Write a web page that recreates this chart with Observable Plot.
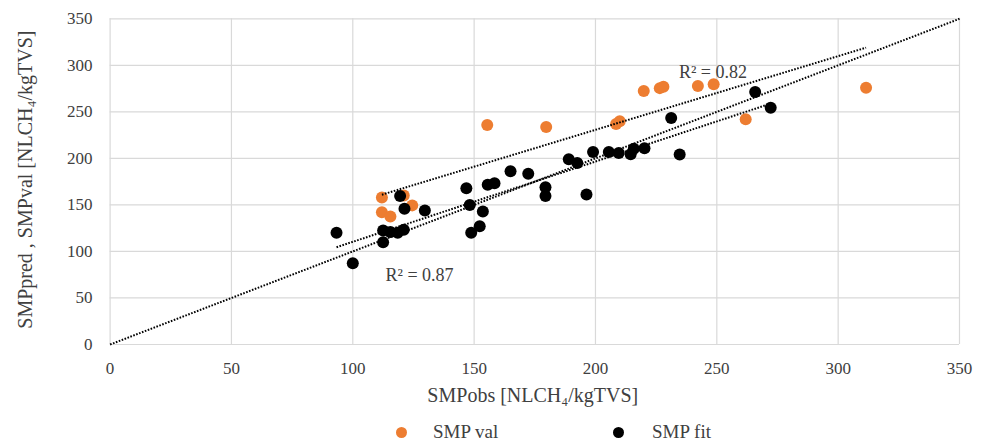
<!DOCTYPE html>
<html>
<head>
<meta charset="utf-8">
<script src="https://cdn.jsdelivr.net/npm/d3@7"></script>
<script src="https://cdn.jsdelivr.net/npm/@observablehq/plot@0.6"></script>
<style>
  html, body { margin: 0; padding: 0; background: #fff; }
  #wrap { width: 981px; position: relative; font-family: "Liberation Serif", "Times New Roman", serif; }
  #legend { position: relative; width: 981px; height: 33px; }
  .sw { position: absolute; width: 11px; height: 11px; border-radius: 50%; top: 17px; }
  .lt { position: absolute; top: 11px; font-size: 19px; color: #404040; line-height: 22px; }
</style>
</head>
<body>
<div id="wrap"></div>
<script>
// SMP val (orange) series
const valX = [112, 121, 112, 115.5, 124.5, 155.4, 179.7, 208.5, 210, 219.9, 226.5, 228, 242.2, 248.7, 261.9, 311.5];
const valY = [158, 160, 142, 137.5, 149.5, 236, 233.7, 237, 240, 272.4, 275.5, 277, 277.8, 279.6, 242, 276];
// SMP fit (black) series
const fitX = [93.3, 100, 112.5, 112.5, 115.5, 118.5, 121, 119.5, 121.3, 129.7, 146.8, 148.2, 148.8, 152.3, 153.6, 155.6, 158.4, 165, 172.3, 179.4, 179.4, 189, 192.5, 196.3, 199, 205.5, 209.6, 214.5, 215.8, 220.2, 231.2, 234.7, 265.8, 272.2];
const fitY = [120, 87.4, 122.5, 110, 121, 120, 123.3, 159.5, 146, 144, 168, 150, 120, 127, 143, 171.7, 173.4, 186.3, 183.5, 169, 159.5, 199, 195, 161.3, 206.8, 206.8, 205.7, 204.5, 210.4, 211, 243.3, 204.3, 271.3, 254.5];
// axis ticks
const ticks = [0, 50, 100, 150, 200, 250, 300, 350];
// 1:1 reference line extent
const identity = [0, 350];
// R² annotations
const r2Labels = ["R² = 0.82", "R² = 0.87"];
const r2X = [248.4, 127.5];
const r2Y = [292.8, 74.2];
const xTitle = "SMPobs [NLCH₄/kgTVS]";
const yTitle = "SMPpred , SMPval [NLCH₄/kgTVS]";
const seriesNames = ["SMP val", "SMP fit"];
const seriesColors = ["#ED7D31", "#000000"];

const val = valX.map((x, i) => ({x, y: valY[i]}));
const fit = fitX.map((x, i) => ({x, y: fitY[i]}));
const r2 = r2Labels.map((t, i) => ({t, x: r2X[i], y: r2Y[i]}));

const font = "Liberation Serif, Times New Roman, serif";
const dotted = {stroke: "#000", strokeWidth: 2, strokeDasharray: "1.6,1.5", strokeLinecap: "butt"};

const chart = Plot.plot({
  width: 981,
  height: 410,
  marginLeft: 109.6,
  marginRight: 22,
  marginTop: 18.3,
  marginBottom: 66,
  style: {fontFamily: font, background: "#fff"},
  x: {domain: [0, 350], ticks},
  y: {domain: [0, 350], ticks},
  marks: [
    Plot.gridX(ticks, {stroke: "#d9d9d9", strokeOpacity: 1, strokeWidth: 1.2}),
    Plot.gridY(ticks, {stroke: "#d9d9d9", strokeOpacity: 1, strokeWidth: 1.2}),
    Plot.axisX({ticks, tickSize: 0, tickPadding: 17, fontSize: 17, color: "#404040", label: null}),
    Plot.axisY({ticks, tickSize: 0, tickPadding: 17.6, fontSize: 17, color: "#404040", label: null}),
    Plot.dot(val, {x: "x", y: "y", r: 6, fill: seriesColors[0], stroke: "none"}),
    Plot.dot(fit, {x: "x", y: "y", r: 6, fill: seriesColors[1], stroke: "none"}),
    Plot.line(identity, {x: d => d, y: d => d, ...dotted}),
    Plot.linearRegressionY(val, {x: "x", y: "y", ci: 0, ...dotted}),
    Plot.linearRegressionY(fit, {x: "x", y: "y", ci: 0, ...dotted}),
    Plot.text(r2, {x: "x", y: "y", text: "t", fontSize: 18, fill: "#404040"}),
    Plot.text([xTitle], {frameAnchor: "bottom", dy: 51, dx: -2, textAnchor: "middle", lineAnchor: "middle", fontSize: 20, fill: "#404040"}),
    Plot.text([yTitle], {frameAnchor: "left", dx: -84.6, dy: -2, rotate: -90, textAnchor: "middle", lineAnchor: "middle", fontSize: 20, fill: "#404040"})
  ]
});

const wrap = document.getElementById("wrap");
wrap.appendChild(chart);

const legend = document.createElement("div");
legend.id = "legend";
const lx = [[395.5, 433], [612.5, 652]];
seriesNames.forEach((name, i) => {
  const sw = document.createElement("span");
  sw.className = "sw";
  sw.style.left = lx[i][0] + "px";
  sw.style.background = seriesColors[i];
  const t = document.createElement("span");
  t.className = "lt";
  t.style.left = lx[i][1] + "px";
  t.textContent = name;
  legend.appendChild(sw);
  legend.appendChild(t);
});
wrap.appendChild(legend);
</script>
</body>
</html>
